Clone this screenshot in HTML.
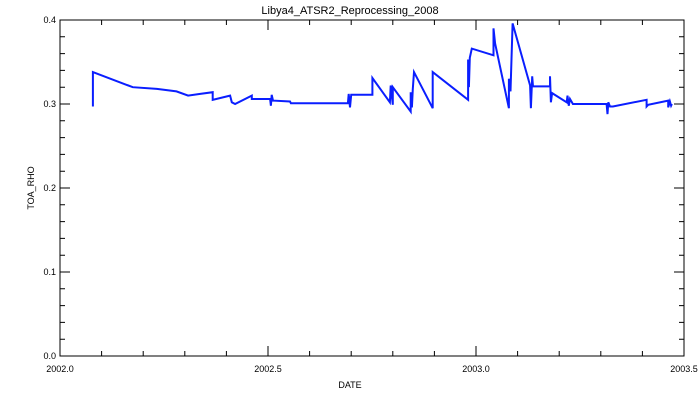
<!DOCTYPE html>
<html><head><meta charset="utf-8"><style>
html,body{margin:0;padding:0;background:#fff;}
svg{display:block;font-family:"Liberation Sans",sans-serif;}
</style></head><body>
<svg id="chart" width="700" height="400">
<text x="350" y="14" font-size="11" text-anchor="middle">Libya4_ATSR2_Reprocessing_2008</text>
<text x="350" y="388" font-size="9" text-anchor="middle">DATE</text>
<text x="34" y="188" font-size="9" text-anchor="middle" transform="rotate(-90 34 188)">TOA_RHO</text>
<g id="axes"></g>
<path id="series" fill="none" stroke="#0a1eff" stroke-width="2" stroke-linejoin="miter"></path>
</svg>
<script>
const dates=[2002.079,2002.079,2002.175,2002.233,2002.280,2002.308,2002.337,2002.367,2002.367,2002.409,2002.413,2002.421,2002.461,2002.461,2002.505,2002.507,2002.509,2002.512,2002.553,2002.555,2002.577,2002.692,2002.694,2002.697,2002.700,2002.709,2002.751,2002.751,2002.793,2002.795,2002.800,2002.800,2002.843,2002.843,2002.846,2002.848,2002.851,2002.896,2002.896,2002.981,2002.981,2002.983,2002.985,2002.990,2003.042,2003.042,2003.046,2003.079,2003.079,2003.083,2003.088,2003.130,2003.132,2003.135,2003.137,2003.178,2003.178,2003.180,2003.183,2003.218,2003.220,2003.223,2003.226,2003.233,2003.314,2003.316,2003.318,2003.322,2003.329,2003.410,2003.410,2003.414,2003.462,2003.462,2003.466,2003.469,2003.471];
const values=[0.297,0.338,0.320,0.318,0.315,0.310,0.312,0.314,0.305,0.310,0.302,0.300,0.310,0.306,0.306,0.298,0.311,0.304,0.303,0.301,0.301,0.301,0.312,0.296,0.311,0.311,0.311,0.331,0.302,0.322,0.299,0.320,0.291,0.314,0.296,0.318,0.338,0.295,0.338,0.305,0.353,0.320,0.355,0.366,0.358,0.390,0.372,0.295,0.330,0.315,0.396,0.322,0.295,0.333,0.321,0.321,0.333,0.302,0.313,0.302,0.310,0.298,0.306,0.300,0.300,0.288,0.302,0.297,0.297,0.305,0.297,0.299,0.304,0.296,0.303,0.298,0.300];
const xTicks=["2002.0","2002.5","2003.0","2003.5"];
const yTicks=["0.0","0.1","0.2","0.3","0.4"];
const L=60,R=684,T=20,B=356,x0=2002,x1=2003.5,y0=0,y1=0.4;
const X=v=>L+(v-x0)/(x1-x0)*(R-L);
const Y=v=>B-(v-y0)/(y1-y0)*(B-T);
const NS="http://www.w3.org/2000/svg";
const ax=document.getElementById('axes');
function mk(tag,attrs){const e=document.createElementNS(NS,tag);for(const k in attrs)e.setAttribute(k,attrs[k]);ax.appendChild(e);return e;}
const frame=mk('rect',{x:L,y:T,width:R-L,height:B-T,fill:'none',stroke:'#000','stroke-width':1});


let d='';
for(let i=0;i<=15;i++){const v=x0+i*0.1,px=X(v),len=(i%5===0)?10:5;
d+=`M${px},${B}v${-len}M${px},${T}v${len}`;}
for(let i=0;i<=20;i++){const v=i*0.02,py=Y(v),len=(i%5===0)?10:5;
d+=`M${L},${py}h${len}M${R},${py}h${-len}`;}
const tk=mk('path',{d:d,stroke:'#000','stroke-width':1,fill:'none'});


xTicks.forEach(t=>{const e=mk('text',{x:X(parseFloat(t)),y:B+16,'font-size':9,'text-anchor':'middle'});e.textContent=t;

});
yTicks.forEach(t=>{const e=mk('text',{x:L-4,y:Y(parseFloat(t))+3,'font-size':9,'text-anchor':'end'});e.textContent=t;

});
document.getElementById('series').setAttribute('d',dates.map((t,i)=>(i?'L':'M')+X(t).toFixed(1)+','+Y(values[i]).toFixed(1)).join(''));
</script>
</body></html>
